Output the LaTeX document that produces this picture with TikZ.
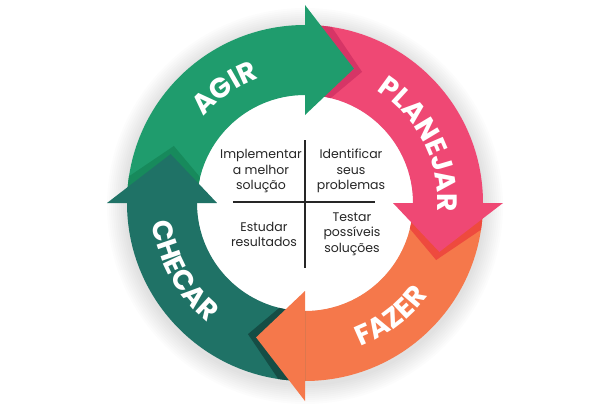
\documentclass[tikz,border=0pt]{standalone}
\usepackage{fontspec}
\setmainfont{Poppins}
\usetikzlibrary{decorations.text}
\definecolor{cgreen}{HTML}{1F9C6D}
\definecolor{cgreenS}{HTML}{178A5C}
\definecolor{cpink}{HTML}{EF4874}
\definecolor{cpinkS}{HTML}{D63566}
\definecolor{corange}{HTML}{F5784B}
\definecolor{corangeS}{HTML}{EE4A3E}
\definecolor{cteal}{HTML}{1F7266}
\definecolor{ctealS}{HTML}{154D45}
\definecolor{ctext}{HTML}{262626}
\newcommand\ringbody[3]{\fill[#3] (#1:178) arc[start angle=#1,end angle=#2,radius=178] -- (#2:108) arc[start angle=#2,end angle=#1,radius=108] -- cycle;}
\newcommand\ringhead[2]{\fill[#2] (#1:88) -- (#1:198) -- ({#1-20}:143) -- cycle;}
\newcommand\headshadow[2]{\begin{scope}
  \clip (#1:178) arc[start angle=#1,end angle={#1-45},radius=178] -- ({#1-45}:108) arc[start angle={#1-45},end angle=#1,radius=108] -- cycle;
  \fill[#2] ({#1-3.5}:88) -- ({#1-3.5}:198) -- ({#1-23.5}:143) -- cycle;
\end{scope}}
\newcommand\lblfont{\fontsize{28}{28}\selectfont\bfseries}
\tikzset{
  lbl/.style={decorate,decoration={text along path,text color=white,text align=center,text={|\lblfont|#1}}},
  quad/.style={align=center,text=ctext,font=\fontsize{12.5}{15.5}\selectfont,inner sep=0pt},
  cross/.style={draw=ctext,line width=1.8pt}
}
\begin{document}
\begin{tikzpicture}[x=1pt,y=1pt]
\useasboundingbox (-305,-204) rectangle (305,203);
% soft glow
\foreach \r in {198,196,...,180}{\fill[black,opacity=0.012] (0,-3) circle (\r);}
\fill[white] (0,0) circle (108);
% bodies
\ringbody{180}{90}{cgreen}
\ringbody{90}{0}{cpink}
\ringbody{0}{-90}{corange}
\ringbody{-90}{-180}{cteal}
% shadows under heads
\headshadow{90}{cpinkS}
\headshadow{0}{corangeS}
\headshadow{-90}{ctealS}
\headshadow{180}{cgreenS}
% heads
\ringhead{90}{cgreen}
\ringhead{0}{cpink}
\ringhead{-90}{corange}
\ringhead{180}{cteal}
% labels
\path[lbl=AGIR] (160:133) arc[start angle=160,end angle=90,radius=133];
\path[lbl=PLANEJAR] (75:133) arc[start angle=75,end angle=-21,radius=133];
\path[lbl=FAZER] (-98:154) arc[start angle=-98,end angle=-8,radius=154];
\path[lbl=CHECAR] (164:154) arc[start angle=164,end angle=254,radius=154];
% center
\coordinate (vt) at (0,63);
\coordinate (vb) at (0,-65);
\coordinate (hl) at (-72,1);
\coordinate (hr) at (70,1);
\draw[cross] (vt) -- (vb);
\draw[cross] (hl) -- (hr);
\node[quad] (act) at (-44,32) {Implementar\\a melhor\\solução};
\node[quad] (plan) at (46,32) {Identificar\\seus\\problemas};
\node[quad] (check) at (-41,-31.5) {Estudar\\resultados};
\node[quad] (do) at (47,-31) {Testar\\possíveis\\soluções};
\end{tikzpicture}
\end{document}
